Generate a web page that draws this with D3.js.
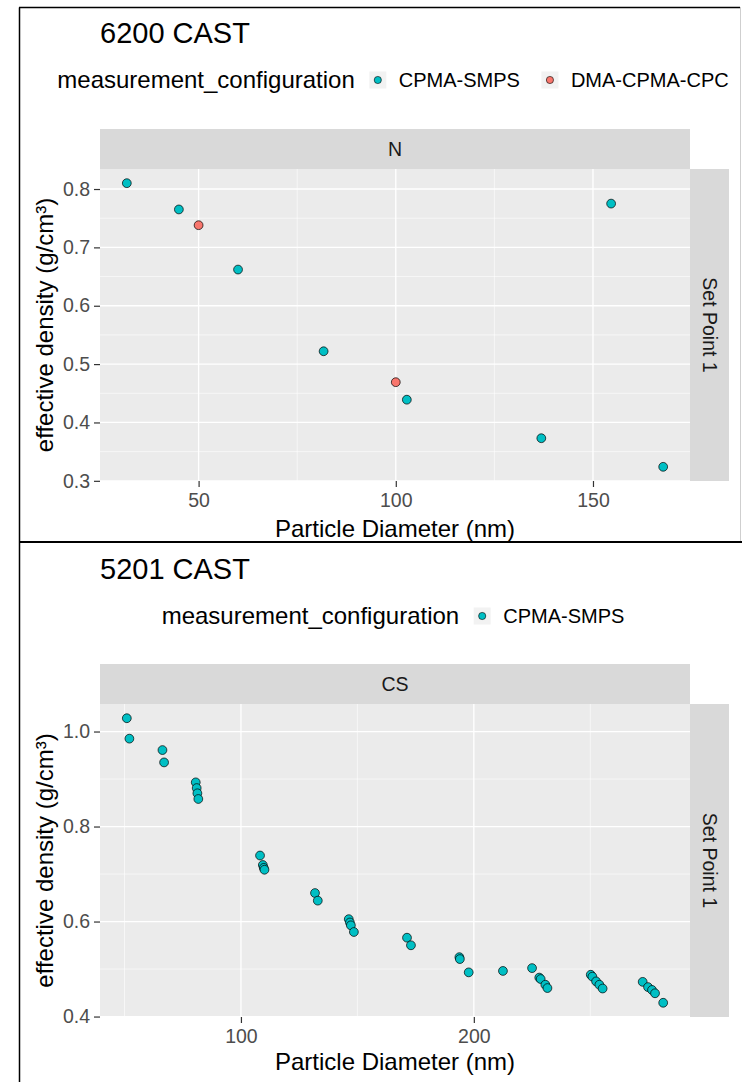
<!DOCTYPE html>
<html>
<head>
<meta charset="utf-8">
<script src="https://cdn.jsdelivr.net/npm/d3@7"></script>
<style>
  html, body { margin: 0; padding: 0; background: #ffffff; }
  svg { display: block; font-family: "Liberation Sans", Arial, sans-serif; }
</style>
</head>
<body>
<svg id="chart" width="742" height="1082"></svg>
<script>
// ---- 6200 CAST, fuel setting N ----
const castA_title = "6200 CAST";
const castA_strip = "N";
const castA_smps_diam = [31.8, 45.0, 60.0, 81.7, 102.8, 136.9, 154.6, 167.8];
const castA_smps_rho  = [0.810, 0.765, 0.662, 0.522, 0.439, 0.373, 0.775, 0.324];
const castA_cpc_diam  = [50.0, 100.0];
const castA_cpc_rho   = [0.738, 0.469];
const castA_xTicks = [50, 100, 150];
const castA_xMinor = [75, 125];
const castA_yTicks = [0.3, 0.4, 0.5, 0.6, 0.7, 0.8];
const castA_yMinor = [0.35, 0.45, 0.55, 0.65, 0.75];

// ---- 5201 CAST, fuel setting CS ----
const castB_title = "5201 CAST";
const castB_strip = "CS";
const castB_smps_diam = [51.0, 52.1, 66.3, 67.0,
  80.6, 81.0, 81.3, 81.7,
  108.2, 109.4, 109.8, 110.1,
  131.8, 133.0,
  146.3, 146.8, 147.2, 148.5,
  171.3, 173.0,
  193.8, 194.0, 197.8,
  212.5,
  225.0, 228.1, 228.7, 230.7, 231.6,
  250.2, 250.9, 252.5, 253.9, 255.3,
  272.5, 274.8, 276.5, 277.8, 281.3];
const castB_smps_rho = [1.028, 0.985, 0.961, 0.935,
  0.893, 0.881, 0.870, 0.858,
  0.739, 0.719, 0.713, 0.709,
  0.660, 0.644,
  0.605, 0.598, 0.592, 0.578,
  0.566, 0.550,
  0.525, 0.521, 0.493,
  0.496,
  0.502, 0.482, 0.479, 0.467, 0.460,
  0.488, 0.484, 0.474, 0.467, 0.459,
  0.473, 0.462, 0.456, 0.449, 0.429];
const castB_xTicks = [100, 200];
const castB_xMinor = [50, 150, 250];
const castB_yTicks = [0.4, 0.6, 0.8, 1.0];
const castB_yMinor = [0.5, 0.7, 0.9];

const configNames = ["CPMA-SMPS", "DMA-CPMA-CPC"];
const configColors = ["#00BFC4", "#F8766D"];

const svg = d3.select("#chart");
const FONT = '"Liberation Sans", Arial, sans-serif';

// outer frame of the two stacked figures
const frame = svg.append("g");
frame.append("line").attr("x1", 19.5).attr("x2", 19.5).attr("y1", 7.5).attr("y2", 1082)
  .attr("stroke", "#000").attr("stroke-width", 1.5);
frame.append("line").attr("x1", 19).attr("x2", 740).attr("y1", 7.5).attr("y2", 7.5)
  .attr("stroke", "#000").attr("stroke-width", 1.5);
frame.append("line").attr("x1", 19).attr("x2", 742).attr("y1", 542).attr("y2", 542)
  .attr("stroke", "#000").attr("stroke-width", 2);
frame.append("line").attr("x1", 740.5).attr("x2", 740.5).attr("y1", 7).attr("y2", 541)
  .attr("stroke", "#cfcfcf").attr("stroke-width", 1);

function expand(vals) {
  const lo = d3.min(vals), hi = d3.max(vals), r = hi - lo;
  return [lo - 0.05 * r, hi + 0.05 * r];
}

function drawFigure(cfg) {
  const g = svg.append("g");
  const P = cfg.panel;

  // title
  g.append("text").attr("x", 100).attr("y", cfg.titleY)
    .attr("font-size", 29).attr("fill", "#000").text(cfg.title);

  // legend (centred horizontally)
  const lg = g.append("g");
  const lt = lg.append("text").attr("x", 0).attr("y", cfg.legendY + 8)
    .attr("font-size", 24).attr("fill", "#000").text("measurement_configuration");
  let cx = lt.node().getComputedTextLength() + 23;
  cfg.series.forEach((s, i) => {
    lg.append("rect").attr("x", cx - 8.5).attr("y", cfg.legendY - 8.5)
      .attr("width", 17).attr("height", 17).attr("fill", "#F2F2F2");
    lg.append("circle").attr("cx", cx).attr("cy", cfg.legendY).attr("r", 3.6)
      .attr("fill", s.color).attr("stroke", "#000").attr("stroke-width", 0.6);
    const t = lg.append("text").attr("x", cx + 21).attr("y", cfg.legendY + 7)
      .attr("font-size", 20).attr("fill", "#000").text(s.name);
    cx = cx + 21 + t.node().getComputedTextLength() + 30;
  });
  const lw = cx - 30;
  lg.attr("transform", `translate(${393 - lw / 2},0)`);

  // scales
  const allX = cfg.series.flatMap(s => s.x);
  const allY = cfg.series.flatMap(s => s.y);
  const x = d3.scaleLinear().domain(expand(allX)).range([P.left, P.right]);
  const y = d3.scaleLinear().domain(expand(allY)).range([P.bottom, P.top]);

  // panel background
  g.append("rect").attr("x", P.left).attr("y", P.top)
    .attr("width", P.right - P.left).attr("height", P.bottom - P.top).attr("fill", "#EBEBEB");

  // grid
  const grid = g.append("g");
  grid.selectAll(".ym").data(cfg.yMinor).join("line")
    .attr("x1", P.left).attr("x2", P.right).attr("y1", d => y(d)).attr("y2", d => y(d))
    .attr("stroke", "#fff").attr("stroke-width", 0.6);
  grid.selectAll(".xm").data(cfg.xMinor).join("line")
    .attr("y1", P.top).attr("y2", P.bottom).attr("x1", d => x(d)).attr("x2", d => x(d))
    .attr("stroke", "#fff").attr("stroke-width", 0.6);
  grid.selectAll(".yM").data(cfg.yTicks).join("line")
    .attr("x1", P.left).attr("x2", P.right).attr("y1", d => y(d)).attr("y2", d => y(d))
    .attr("stroke", "#fff").attr("stroke-width", 1.3);
  grid.selectAll(".xM").data(cfg.xTicks).join("line")
    .attr("y1", P.top).attr("y2", P.bottom).attr("x1", d => x(d)).attr("x2", d => x(d))
    .attr("stroke", "#fff").attr("stroke-width", 1.3);

  // facet strips
  g.append("rect").attr("x", P.left).attr("y", P.top - 40)
    .attr("width", P.right - P.left).attr("height", 40).attr("fill", "#D9D9D9");
  g.append("text").attr("x", (P.left + P.right) / 2).attr("y", P.top - 20)
    .attr("text-anchor", "middle").attr("dominant-baseline", "central")
    .attr("font-size", 19.5).attr("fill", "#1A1A1A").text(cfg.strip);
  g.append("rect").attr("x", P.right).attr("y", P.top)
    .attr("width", 39).attr("height", P.bottom - P.top).attr("fill", "#D9D9D9");
  g.append("text")
    .attr("transform", `translate(${P.right + 19.5},${(P.top + P.bottom) / 2}) rotate(90)`)
    .attr("text-anchor", "middle").attr("dominant-baseline", "central")
    .attr("font-size", 19.5).attr("fill", "#1A1A1A").text("Set Point 1");

  // axes
  const fmt = d3.format(".1f");
  const ax = g.append("g").attr("transform", `translate(0,${P.bottom})`)
    .call(d3.axisBottom(x).tickValues(cfg.xTicks).tickSize(6).tickPadding(6.5).tickFormat(d3.format("d")));
  const ay = g.append("g").attr("transform", `translate(${P.left},0)`)
    .call(d3.axisLeft(y).tickValues(cfg.yTicks).tickSize(6).tickPadding(4).tickFormat(fmt));
  [ax, ay].forEach(a => {
    a.select(".domain").remove();
    a.selectAll(".tick line").attr("stroke", "#333333").attr("stroke-width", 1.2);
    a.selectAll(".tick text").attr("fill", "#4D4D4D").attr("font-size", 19.5).attr("font-family", FONT);
  });

  // axis titles
  g.append("text").attr("x", (P.left + P.right) / 2).attr("y", cfg.xTitleY)
    .attr("text-anchor", "middle").attr("font-size", 24).attr("fill", "#000")
    .text("Particle Diameter (nm)");
  g.append("text")
    .attr("transform", `translate(53,${(P.top + P.bottom) / 2}) rotate(-90)`)
    .attr("text-anchor", "middle").attr("font-size", 24).attr("fill", "#000")
    .text("effective density (g/cm³)");

  // points
  cfg.series.forEach(s => {
    g.append("g").selectAll("circle").data(d3.zip(s.x, s.y)).join("circle")
      .attr("cx", d => x(d[0])).attr("cy", d => y(d[1])).attr("r", 4.4)
      .attr("fill", s.color).attr("stroke", "#000").attr("stroke-width", 0.7);
  });
}

drawFigure({
  title: castA_title, strip: castA_strip,
  titleY: 43, legendY: 80, xTitleY: 537,
  panel: { left: 100, right: 690, top: 169, bottom: 481 },
  xTicks: castA_xTicks, xMinor: castA_xMinor, yTicks: castA_yTicks, yMinor: castA_yMinor,
  series: [
    { name: configNames[0], color: configColors[0], x: castA_smps_diam, y: castA_smps_rho },
    { name: configNames[1], color: configColors[1], x: castA_cpc_diam, y: castA_cpc_rho }
  ]
});

drawFigure({
  title: castB_title, strip: castB_strip,
  titleY: 579, legendY: 616, xTitleY: 1070,
  panel: { left: 100, right: 690, top: 704, bottom: 1017 },
  xTicks: castB_xTicks, xMinor: castB_xMinor, yTicks: castB_yTicks, yMinor: castB_yMinor,
  series: [
    { name: configNames[0], color: configColors[0], x: castB_smps_diam, y: castB_smps_rho }
  ]
});
</script>
</body>
</html>
